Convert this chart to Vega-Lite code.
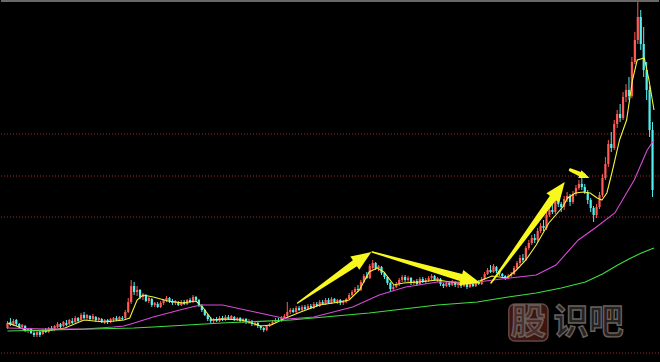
{
  "$schema": "https://vega.github.io/schema/vega-lite/v6.json",
  "width": 660,
  "height": 362,
  "autosize": {"type": "fit", "contains": "padding"},
  "padding": 0,
  "background": "#000000",
  "config": {"view": {"stroke": null}, "axis": {"disable": true}},
  "resolve": {"scale": {"size": "independent"}},
  "datasets": {
    "levels": [{"v": 228}, {"v": 186}, {"v": 145}, {"v": 9}],
    "frame": [{"v": 361}],
    "badge": [{"i1": 170.2, "i2": 183.5, "v1": 21, "v2": 58}],
    "brand": [{"t": "股", "i": 176.8, "v": 39.5}, {"t": "识吧", "i": 197.3, "v": 39.5}],
    "candles": [
      {"i":0,"o":34,"h":41,"l":33,"c":39},{"i":1,"o":40,"h":44,"l":36,"c":37},{"i":2,"o":37,"h":43,"l":36,"c":41},{"i":3,"o":42,"h":43,"l":36,"c":38},
      {"i":4,"o":38,"h":39,"l":34,"c":35},{"i":5,"o":35,"h":38,"l":33,"c":37},{"i":6,"o":36,"h":37,"l":30,"c":31},{"i":7,"o":31,"h":34,"l":29,"c":33},
      {"i":8,"o":33,"h":34,"l":28,"c":29},{"i":9,"o":29,"h":31,"l":25,"c":27},{"i":10,"o":27,"h":31,"l":25,"c":30},{"i":11,"o":30,"h":31,"l":25,"c":27},
      {"i":12,"o":28,"h":33,"l":27,"c":32},{"i":13,"o":32,"h":34,"l":29,"c":30},{"i":14,"o":30,"h":35,"l":29,"c":34},{"i":15,"o":34,"h":36,"l":31,"c":32},
      {"i":16,"o":32,"h":37,"l":31,"c":36},{"i":17,"o":35,"h":40,"l":34,"c":38},{"i":18,"o":38,"h":39,"l":34,"c":35},{"i":19,"o":36,"h":41,"l":35,"c":40},
      {"i":20,"o":39,"h":42,"l":36,"c":37},{"i":21,"o":38,"h":43,"l":37,"c":42},{"i":22,"o":41,"h":44,"l":38,"c":39},{"i":23,"o":40,"h":46,"l":39,"c":44},
      {"i":24,"o":44,"h":45,"l":40,"c":41},{"i":25,"o":42,"h":49,"l":41,"c":47},{"i":26,"o":47,"h":50,"l":43,"c":44},{"i":27,"o":44,"h":48,"l":42,"c":47},
      {"i":28,"o":46,"h":47,"l":42,"c":43},{"i":29,"o":43,"h":48,"l":42,"c":46},{"i":30,"o":45,"h":46,"l":40,"c":42},{"i":31,"o":42,"h":45,"l":40,"c":44},
      {"i":32,"o":43,"h":44,"l":39,"c":40},{"i":33,"o":40,"h":43,"l":38,"c":42},{"i":34,"o":42,"h":43,"l":38,"c":40},{"i":35,"o":40,"h":44,"l":39,"c":43},
      {"i":36,"o":42,"h":45,"l":40,"c":44},{"i":37,"o":44,"h":46,"l":41,"c":42},{"i":38,"o":42,"h":46,"l":41,"c":45},{"i":39,"o":44,"h":46,"l":42,"c":43},
      {"i":40,"o":44,"h":52,"l":43,"c":50},{"i":41,"o":50,"h":64,"l":49,"c":60},{"i":42,"o":60,"h":82,"l":58,"c":76},{"i":43,"o":76,"h":80,"l":67,"c":70},
      {"i":44,"o":70,"h":76,"l":66,"c":72},{"i":45,"o":72,"h":73,"l":63,"c":65},{"i":46,"o":65,"h":69,"l":62,"c":67},{"i":47,"o":67,"h":68,"l":60,"c":61},
      {"i":48,"o":61,"h":65,"l":59,"c":64},{"i":49,"o":63,"h":64,"l":55,"c":57},{"i":50,"o":57,"h":60,"l":55,"c":59},{"i":51,"o":58,"h":60,"l":54,"c":55},
      {"i":52,"o":55,"h":61,"l":54,"c":59},{"i":53,"o":59,"h":63,"l":57,"c":62},{"i":54,"o":62,"h":66,"l":60,"c":64},{"i":55,"o":64,"h":65,"l":59,"c":61},
      {"i":56,"o":61,"h":63,"l":57,"c":59},{"i":57,"o":59,"h":62,"l":57,"c":61},{"i":58,"o":60,"h":61,"l":56,"c":57},{"i":59,"o":57,"h":62,"l":56,"c":60},
      {"i":60,"o":60,"h":62,"l":57,"c":58},{"i":61,"o":58,"h":63,"l":57,"c":62},{"i":62,"o":62,"h":64,"l":59,"c":60},{"i":63,"o":60,"h":67,"l":59,"c":65},
      {"i":64,"o":65,"h":66,"l":60,"c":62},{"i":65,"o":62,"h":63,"l":55,"c":56},{"i":66,"o":56,"h":58,"l":50,"c":52},{"i":67,"o":52,"h":53,"l":46,"c":47},
      {"i":68,"o":47,"h":48,"l":41,"c":43},{"i":69,"o":43,"h":45,"l":39,"c":41},{"i":70,"o":41,"h":44,"l":39,"c":43},{"i":71,"o":43,"h":45,"l":40,"c":41},
      {"i":72,"o":41,"h":46,"l":40,"c":44},{"i":73,"o":44,"h":46,"l":41,"c":42},{"i":74,"o":42,"h":47,"l":41,"c":45},{"i":75,"o":45,"h":47,"l":42,"c":43},
      {"i":76,"o":43,"h":47,"l":42,"c":46},{"i":77,"o":45,"h":46,"l":41,"c":42},{"i":78,"o":42,"h":45,"l":41,"c":44},{"i":79,"o":44,"h":45,"l":40,"c":41},
      {"i":80,"o":41,"h":44,"l":39,"c":43},{"i":81,"o":43,"h":44,"l":38,"c":40},{"i":82,"o":40,"h":43,"l":38,"c":41},{"i":83,"o":41,"h":42,"l":36,"c":38},
      {"i":84,"o":38,"h":41,"l":36,"c":39},{"i":85,"o":39,"h":40,"l":34,"c":36},{"i":86,"o":36,"h":37,"l":32,"c":34},{"i":87,"o":34,"h":35,"l":30,"c":32},
      {"i":88,"o":32,"h":37,"l":31,"c":36},{"i":89,"o":36,"h":39,"l":35,"c":38},{"i":90,"o":38,"h":42,"l":37,"c":40},{"i":91,"o":40,"h":44,"l":39,"c":42},
      {"i":92,"o":42,"h":44,"l":40,"c":41},{"i":93,"o":41,"h":46,"l":40,"c":44},{"i":94,"o":44,"h":48,"l":43,"c":46},{"i":95,"o":46,"h":60,"l":45,"c":50},
      {"i":96,"o":50,"h":54,"l":48,"c":52},{"i":97,"o":52,"h":54,"l":49,"c":50},{"i":98,"o":50,"h":56,"l":49,"c":54},{"i":99,"o":54,"h":56,"l":51,"c":52},
      {"i":100,"o":52,"h":57,"l":51,"c":55},{"i":101,"o":55,"h":57,"l":52,"c":53},{"i":102,"o":53,"h":58,"l":52,"c":56},{"i":103,"o":56,"h":58,"l":53,"c":54},
      {"i":104,"o":54,"h":60,"l":53,"c":58},{"i":105,"o":58,"h":60,"l":55,"c":56},{"i":106,"o":56,"h":62,"l":55,"c":60},{"i":107,"o":60,"h":62,"l":57,"c":58},
      {"i":108,"o":58,"h":64,"l":57,"c":62},{"i":109,"o":62,"h":64,"l":58,"c":59},{"i":110,"o":59,"h":65,"l":58,"c":63},{"i":111,"o":63,"h":64,"l":59,"c":60},
      {"i":112,"o":60,"h":63,"l":58,"c":62},{"i":113,"o":62,"h":63,"l":57,"c":59},{"i":114,"o":59,"h":62,"l":57,"c":61},{"i":115,"o":60,"h":64,"l":59,"c":63},
      {"i":116,"o":63,"h":69,"l":62,"c":67},{"i":117,"o":67,"h":72,"l":66,"c":70},{"i":118,"o":70,"h":75,"l":69,"c":73},{"i":119,"o":73,"h":77,"l":70,"c":72},
      {"i":120,"o":72,"h":82,"l":71,"c":80},{"i":121,"o":80,"h":88,"l":79,"c":86},{"i":122,"o":86,"h":90,"l":83,"c":84},{"i":123,"o":84,"h":98,"l":83,"c":96},
      {"i":124,"o":94,"h":102,"l":93,"c":99},{"i":125,"o":99,"h":100,"l":92,"c":94},{"i":126,"o":94,"h":97,"l":91,"c":96},{"i":127,"o":95,"h":96,"l":87,"c":89},
      {"i":128,"o":89,"h":90,"l":83,"c":85},{"i":129,"o":85,"h":86,"l":77,"c":79},{"i":130,"o":79,"h":80,"l":70,"c":73},{"i":131,"o":73,"h":77,"l":71,"c":75},
      {"i":132,"o":75,"h":80,"l":74,"c":78},{"i":133,"o":78,"h":84,"l":76,"c":82},{"i":134,"o":82,"h":87,"l":80,"c":85},{"i":135,"o":85,"h":87,"l":80,"c":82},
      {"i":136,"o":82,"h":86,"l":79,"c":84},{"i":137,"o":84,"h":85,"l":77,"c":79},{"i":138,"o":79,"h":82,"l":77,"c":81},{"i":139,"o":81,"h":83,"l":76,"c":78},
      {"i":140,"o":78,"h":85,"l":77,"c":83},{"i":141,"o":83,"h":85,"l":79,"c":80},{"i":142,"o":80,"h":84,"l":78,"c":82},{"i":143,"o":82,"h":86,"l":80,"c":84},
      {"i":144,"o":84,"h":88,"l":82,"c":86},{"i":145,"o":86,"h":87,"l":81,"c":82},{"i":146,"o":82,"h":85,"l":80,"c":84},{"i":147,"o":83,"h":84,"l":76,"c":78},
      {"i":148,"o":78,"h":79,"l":74,"c":76},{"i":149,"o":76,"h":80,"l":75,"c":79},{"i":150,"o":79,"h":81,"l":75,"c":77},{"i":151,"o":77,"h":82,"l":76,"c":81},
      {"i":152,"o":80,"h":81,"l":75,"c":77},{"i":153,"o":77,"h":80,"l":74,"c":78},{"i":154,"o":78,"h":80,"l":74,"c":76},{"i":155,"o":76,"h":79,"l":75,"c":78},
      {"i":156,"o":78,"h":79,"l":73,"c":75},{"i":157,"o":75,"h":79,"l":74,"c":78},{"i":158,"o":78,"h":80,"l":75,"c":76},{"i":159,"o":76,"h":81,"l":75,"c":80},
      {"i":160,"o":80,"h":82,"l":77,"c":78},{"i":161,"o":78,"h":85,"l":77,"c":83},{"i":162,"o":83,"h":90,"l":82,"c":88},{"i":163,"o":88,"h":94,"l":87,"c":92},
      {"i":164,"o":92,"h":97,"l":89,"c":90},{"i":165,"o":90,"h":98,"l":89,"c":96},{"i":166,"o":95,"h":96,"l":89,"c":91},{"i":167,"o":91,"h":92,"l":86,"c":88},
      {"i":168,"o":88,"h":89,"l":84,"c":86},{"i":169,"o":86,"h":87,"l":82,"c":84},{"i":170,"o":84,"h":88,"l":83,"c":86},{"i":171,"o":86,"h":90,"l":85,"c":88},
      {"i":172,"o":88,"h":96,"l":87,"c":94},{"i":173,"o":94,"h":101,"l":93,"c":99},{"i":174,"o":99,"h":107,"l":97,"c":104},{"i":175,"o":104,"h":108,"l":100,"c":102},
      {"i":176,"o":102,"h":116,"l":101,"c":114},{"i":177,"o":114,"h":122,"l":112,"c":119},{"i":178,"o":119,"h":127,"l":117,"c":124},{"i":179,"o":124,"h":128,"l":119,"c":122},
      {"i":180,"o":122,"h":134,"l":120,"c":131},{"i":181,"o":131,"h":139,"l":129,"c":136},{"i":182,"o":136,"h":142,"l":131,"c":134},{"i":183,"o":134,"h":150,"l":132,"c":147},
      {"i":184,"o":147,"h":156,"l":145,"c":152},{"i":185,"o":152,"h":158,"l":148,"c":150},{"i":186,"o":150,"h":166,"l":148,"c":163},{"i":187,"o":163,"h":165,"l":155,"c":158},
      {"i":188,"o":158,"h":160,"l":150,"c":155},{"i":189,"o":155,"h":166,"l":152,"c":163},{"i":190,"o":163,"h":170,"l":160,"c":166},{"i":191,"o":166,"h":168,"l":156,"c":160},
      {"i":192,"o":160,"h":171,"l":158,"c":168},{"i":193,"o":168,"h":177,"l":166,"c":174},{"i":194,"o":174,"h":182,"l":172,"c":178},{"i":195,"o":178,"h":186,"l":172,"c":175},
      {"i":196,"o":175,"h":178,"l":168,"c":170},{"i":197,"o":170,"h":172,"l":158,"c":162},{"i":198,"o":162,"h":164,"l":150,"c":154},{"i":199,"o":154,"h":156,"l":140,"c":147},
      {"i":200,"o":147,"h":158,"l":144,"c":155},{"i":201,"o":155,"h":170,"l":153,"c":167},{"i":202,"o":167,"h":188,"l":165,"c":184},{"i":203,"o":184,"h":205,"l":182,"c":198},
      {"i":204,"o":198,"h":222,"l":195,"c":218},{"i":205,"o":218,"h":230,"l":210,"c":214},{"i":206,"o":214,"h":242,"l":212,"c":238},{"i":207,"o":238,"h":252,"l":234,"c":248},
      {"i":208,"o":248,"h":258,"l":240,"c":244},{"i":209,"o":244,"h":270,"l":242,"c":265},{"i":210,"o":265,"h":278,"l":260,"c":272},{"i":211,"o":272,"h":285,"l":262,"c":266},
      {"i":212,"o":266,"h":305,"l":264,"c":300},{"i":213,"o":300,"h":330,"l":298,"c":322},{"i":214,"o":322,"h":360,"l":318,"c":345},{"i":215,"o":345,"h":352,"l":312,"c":318},
      {"i":216,"o":318,"h":335,"l":285,"c":292},{"i":217,"o":292,"h":300,"l":262,"c":272},{"i":218,"o":272,"h":276,"l":225,"c":232},{"i":219,"o":232,"h":240,"l":165,"c":172}
    ],
    "averages": [
      {"ma":"MA5","i":0,"v":39},{"ma":"MA5","i":3,"v":36},{"ma":"MA5","i":6,"v":32},{"ma":"MA5","i":13,"v":31},{"ma":"MA5","i":19.5,"v":34},
      {"ma":"MA5","i":26,"v":42},{"ma":"MA5","i":33,"v":40},{"ma":"MA5","i":39.5,"v":42},{"ma":"MA5","i":41.5,"v":44},{"ma":"MA5","i":44,"v":62},
      {"ma":"MA5","i":46,"v":67},{"ma":"MA5","i":49.5,"v":65},{"ma":"MA5","i":54.5,"v":61},{"ma":"MA5","i":59.5,"v":59},{"ma":"MA5","i":64,"v":61},
      {"ma":"MA5","i":66.5,"v":54},{"ma":"MA5","i":69.5,"v":42},{"ma":"MA5","i":73,"v":43},{"ma":"MA5","i":79.5,"v":42},{"ma":"MA5","i":86,"v":36},
      {"ma":"MA5","i":89.5,"v":37},{"ma":"MA5","i":94.5,"v":44},{"ma":"MA5","i":99.5,"v":50},{"ma":"MA5","i":106,"v":57},{"ma":"MA5","i":112.8,"v":60},
      {"ma":"MA5","i":116,"v":62},{"ma":"MA5","i":119.5,"v":72},{"ma":"MA5","i":122.8,"v":90},{"ma":"MA5","i":125.5,"v":94},{"ma":"MA5","i":127.8,"v":90},
      {"ma":"MA5","i":131.2,"v":77},{"ma":"MA5","i":134.5,"v":79},{"ma":"MA5","i":139.5,"v":80},{"ma":"MA5","i":146,"v":82},{"ma":"MA5","i":152.8,"v":79},
      {"ma":"MA5","i":159.5,"v":80},{"ma":"MA5","i":162.8,"v":84},{"ma":"MA5","i":164.5,"v":86},{"ma":"MA5","i":169.5,"v":84},{"ma":"MA5","i":172.8,"v":92},
      {"ma":"MA5","i":176,"v":102},{"ma":"MA5","i":179.5,"v":117},{"ma":"MA5","i":183.8,"v":139},{"ma":"MA5","i":188.5,"v":155},{"ma":"MA5","i":190.2,"v":164},
      {"ma":"MA5","i":192.8,"v":169},{"ma":"MA5","i":195.5,"v":170},{"ma":"MA5","i":197.8,"v":169},{"ma":"MA5","i":200.2,"v":164},{"ma":"MA5","i":201.8,"v":162},
      {"ma":"MA5","i":203.5,"v":169},{"ma":"MA5","i":205.2,"v":189},{"ma":"MA5","i":207.8,"v":222},{"ma":"MA5","i":210.2,"v":242},{"ma":"MA5","i":212.2,"v":282},
      {"ma":"MA5","i":213.8,"v":302},{"ma":"MA5","i":216.2,"v":304},{"ma":"MA5","i":217.8,"v":282},{"ma":"MA5","i":219.5,"v":252},
      {"ma":"MA30","i":0,"v":34},{"ma":"MA30","i":13,"v":33},{"ma":"MA30","i":26,"v":33},{"ma":"MA30","i":36,"v":35},{"ma":"MA30","i":39.5,"v":36},
      {"ma":"MA30","i":43,"v":39},{"ma":"MA30","i":49.5,"v":45},{"ma":"MA30","i":58.5,"v":52},{"ma":"MA30","i":64,"v":56},{"ma":"MA30","i":66,"v":57},
      {"ma":"MA30","i":73,"v":57},{"ma":"MA30","i":84,"v":50},{"ma":"MA30","i":95,"v":43},{"ma":"MA30","i":104,"v":45},{"ma":"MA30","i":117.2,"v":55},
      {"ma":"MA30","i":126.2,"v":67},{"ma":"MA30","i":135.2,"v":75},{"ma":"MA30","i":146,"v":80},{"ma":"MA30","i":159.5,"v":80},{"ma":"MA30","i":170.5,"v":84},
      {"ma":"MA30","i":179.5,"v":87},{"ma":"MA30","i":186.2,"v":97},{"ma":"MA30","i":193.8,"v":122},{"ma":"MA30","i":199.5,"v":134},{"ma":"MA30","i":206.2,"v":149},
      {"ma":"MA30","i":212.8,"v":182},{"ma":"MA30","i":217.2,"v":212},{"ma":"MA30","i":219.5,"v":222},
      {"ma":"MA120","i":0,"v":31},{"ma":"MA120","i":42.8,"v":34},{"ma":"MA120","i":49.5,"v":35},{"ma":"MA120","i":72.8,"v":39},{"ma":"MA120","i":96.2,"v":42},
      {"ma":"MA120","i":122.8,"v":49},{"ma":"MA120","i":146,"v":57},{"ma":"MA120","i":159.5,"v":60},{"ma":"MA120","i":170,"v":65},{"ma":"MA120","i":179.5,"v":69},
      {"ma":"MA120","i":188,"v":74},{"ma":"MA120","i":196.2,"v":80},{"ma":"MA120","i":202,"v":88},{"ma":"MA120","i":207.2,"v":97},{"ma":"MA120","i":211,"v":103},
      {"ma":"MA120","i":215.2,"v":109},{"ma":"MA120","i":219.5,"v":114}
    ],
    "shafts": [
      {"arrow":"a1","step":0,"part":"tail","i":98.5,"v":59},
      {"arrow":"a1","step":1,"part":"neck","i":119.92,"v":102.69},
      {"arrow":"a2","step":0,"part":"tail","i":123.83,"v":110},
      {"arrow":"a2","step":1,"part":"neck","i":156.33,"v":82.52},
      {"arrow":"a3","step":0,"part":"tail","i":164.17,"v":79},
      {"arrow":"a3","step":1,"part":"neck","i":186.58,"v":169.56},
      {"arrow":"a4","step":0,"part":"tail-s","i":191.17,"v":192},
      {"arrow":"a4","step":1,"part":"neck-s","i":195.5,"v":186.52}
    ],
    "heads": [
      {"arrow":"a1","kind":"large","bearing":55.8,"i":120.74,"v":104.38},
      {"arrow":"a2","kind":"large","bearing":105.7,"i":157.29,"v":81.71},
      {"arrow":"a3","kind":"large","bearing":36.6,"i":187.18,"v":171.97},
      {"arrow":"a4","kind":"small","bearing":112.8,"i":195.96,"v":185.94}
    ]
  },
  "layer": [
    {
      "data": {"name": "levels"},
      "mark": {"type": "rule", "stroke": "#a52a2a", "strokeWidth": 1, "strokeDash": [1, 2]},
      "encoding": {
        "y": {"field": "v", "type": "quantitative", "scale": {"domain": [0, 362], "nice": false, "zero": false}}
      }
    },
    {
      "data": {"name": "frame"},
      "mark": {"type": "rule", "stroke": "#cfcfcf", "strokeWidth": 1.2},
      "encoding": {
        "y": {"field": "v", "type": "quantitative", "scale": {"domain": [0, 362], "nice": false, "zero": false}}
      }
    },
    {
      "data": {"name": "badge"},
      "mark": {"type": "rect", "fill": "#3e1410", "stroke": "#5c4944", "strokeWidth": 1.5, "cornerRadius": 6},
      "encoding": {
        "x": {"field": "i1", "type": "quantitative", "scale": {"domain": [-0.5, 219.5], "nice": false, "zero": false}},
        "x2": {"field": "i2"},
        "y": {"field": "v1", "type": "quantitative", "scale": {"domain": [0, 362], "nice": false, "zero": false}},
        "y2": {"field": "v2"}
      }
    },
    {
      "data": {"name": "brand"},
      "mark": {"type": "text", "font": "Noto Sans CJK SC", "fontSize": 35, "fontWeight": "bold", "align": "center", "baseline": "middle", "fill": "#6a605c", "fillOpacity": 0.35, "stroke": "#6a605c", "strokeWidth": 1.4},
      "encoding": {
        "x": {"field": "i", "type": "quantitative", "scale": {"domain": [-0.5, 219.5], "nice": false, "zero": false}},
        "y": {"field": "v", "type": "quantitative", "scale": {"domain": [0, 362], "nice": false, "zero": false}},
        "text": {"field": "t"}
      }
    },
    {
      "data": {"name": "candles"},
      "mark": {"type": "rule", "strokeWidth": 1, "clip": true},
      "encoding": {
        "x": {"field": "i", "type": "quantitative", "scale": {"domain": [-0.5, 219.5], "nice": false, "zero": false}},
        "y": {"field": "l", "type": "quantitative", "scale": {"domain": [0, 362], "nice": false, "zero": false}},
        "y2": {"field": "h"},
        "color": {"condition": {"test": "datum.c >= datum.o", "value": "#ff5a55"}, "value": "#54f0f0"}
      }
    },
    {
      "data": {"name": "candles"},
      "mark": {"type": "bar", "size": 2.2, "clip": true},
      "encoding": {
        "x": {"field": "i", "type": "quantitative", "scale": {"domain": [-0.5, 219.5], "nice": false, "zero": false}},
        "y": {"field": "o", "type": "quantitative", "scale": {"domain": [0, 362], "nice": false, "zero": false}},
        "y2": {"field": "c"},
        "color": {"condition": {"test": "datum.c >= datum.o", "value": "#ff5a55"}, "value": "#54f0f0"}
      }
    },
    {
      "data": {"name": "averages"},
      "mark": {"type": "line", "strokeWidth": 1.1, "clip": true},
      "encoding": {
        "x": {"field": "i", "type": "quantitative", "scale": {"domain": [-0.5, 219.5], "nice": false, "zero": false}},
        "y": {"field": "v", "type": "quantitative", "scale": {"domain": [0, 362], "nice": false, "zero": false}},
        "color": {"field": "ma", "type": "nominal", "legend": null,
          "scale": {"domain": ["MA120", "MA30", "MA5"], "range": ["#3ee03e", "#d94ad9", "#f4f43c"]}}
      }
    },
    {
      "data": {"name": "shafts"},
      "mark": {"type": "trail", "color": "#f8f81e"},
      "encoding": {
        "x": {"field": "i", "type": "quantitative", "scale": {"domain": [-0.5, 219.5], "nice": false, "zero": false}},
        "y": {"field": "v", "type": "quantitative", "scale": {"domain": [0, 362], "nice": false, "zero": false}},
        "detail": {"field": "arrow"},
        "order": {"field": "step", "type": "quantitative"},
        "size": {"field": "part", "type": "ordinal", "legend": null,
          "scale": {"type": "ordinal", "domain": ["tail", "neck", "tail-s", "neck-s"], "range": [1.5, 8, 3.5, 5]}}
      }
    },
    {
      "data": {"name": "heads"},
      "mark": {"type": "point", "filled": true, "opacity": 1, "color": "#f8f81e", "strokeWidth": 0,
        "shape": "M0,-1L0.8,1L-0.8,1Z"},
      "encoding": {
        "x": {"field": "i", "type": "quantitative", "scale": {"domain": [-0.5, 219.5], "nice": false, "zero": false}},
        "y": {"field": "v", "type": "quantitative", "scale": {"domain": [0, 362], "nice": false, "zero": false}},
        "angle": {"field": "bearing", "type": "quantitative", "scale": null},
        "size": {"field": "kind", "type": "nominal", "legend": null,
          "scale": {"type": "ordinal", "domain": ["large", "small"], "range": [400, 110]}}
      }
    }
  ]
}
